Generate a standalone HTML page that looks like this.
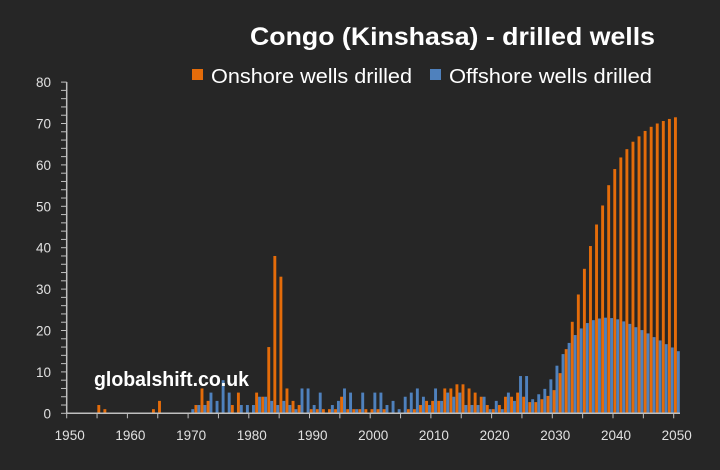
<!DOCTYPE html>
<html><head><meta charset="utf-8"><style>
body{margin:0;background:#262626;}
svg{display:block;font-family:"Liberation Sans",sans-serif;}
</style></head><body>
<svg id="c" width="720" height="470" xmlns="http://www.w3.org/2000/svg">
<rect width="720" height="470" fill="#262626"/>
<text x="250" y="45" textLength="405" lengthAdjust="spacingAndGlyphs" fill="#fff" font-size="25" font-weight="bold">Congo (Kinshasa) - drilled wells</text>
<rect x="192" y="69" width="11" height="11" fill="#e46c0a"/>
<text x="211" y="83" textLength="201" lengthAdjust="spacingAndGlyphs" fill="#fff" font-size="20">Onshore wells drilled</text>
<rect x="430" y="69" width="11" height="11" fill="#4f81bd"/>
<text x="449" y="83" textLength="203" lengthAdjust="spacingAndGlyphs" fill="#fff" font-size="20">Offshore wells drilled</text>
<g id="bars"></g>
<g id="axes" stroke="#bfbfbf" stroke-width="1.5"></g>
<g id="lbl" fill="#e0e0e0" font-size="13.5"></g>
<text x="94" y="386" textLength="155" lengthAdjust="spacingAndGlyphs" fill="#fff" font-size="20" font-weight="bold">globalshift.co.uk</text>
</svg>
<script>
var X0=66.7,S=6.07,Y0=413.3,K=4.14,NS="http://www.w3.org/2000/svg";
var on={1955:2,1956:1,1964:1,1965:3,1971:2,1972:6,1973:3,1977:2,1978:5,1981:5,1982:4,1983:16,1984:38,1985:33,1986:6,1987:3,1988:2,
1990:1,1991:1,1992:1,1993:1,1994:1,1995:4,1996:1,1997:1,1998:1,1999:1,2000:1,2001:1,2002:1,2006:1,2007:1,2008:2,2009:3,2010:3,2011:3,2012:6,2013:6,2014:7,2015:7,2016:6,2017:5,2018:4,2019:2,2020:1,2021:2,2022:4,2023:4,2024:5,2025:4,
2026:2.7,2027:2.7,2028:3.4,2029:4.2,2030:5.6,2031:9.7,2032:15.5,2033:22.1,2034:28.7,2035:34.9,2036:40.4,2037:45.6,2038:50.2,2039:55.1,2040:59,2041:61.8,2042:63.8,2043:65.6,2044:66.9,2045:68.2,2046:69.2,2047:70,2048:70.6,2049:71.1,2050:71.5};
var off={1970:1,1971:2,1972:2,1973:5,1974:3,1975:8,1976:5,1978:2,1979:2,1980:2,1981:4,1982:4,1983:3,1984:2,1985:3,1986:2,1987:1,1988:6,1989:6,
1990:2,1991:5,1993:2,1994:3,1995:6,1996:5,1997:1,1998:5,2000:5,2001:5,2002:2,2003:3,2004:1,2005:4,2006:5,2007:6,2008:4,2009:2,2010:6,2011:3,2012:5,2013:4,2014:5,2015:2,2016:2,2017:2,2018:4,2019:1,2020:3,2021:1,2022:5,2023:3,2024:9,2025:9,
2026:3.4,2027:4.6,2028:5.9,2029:8.2,2030:11.5,2031:14.3,2032:17,2033:18.9,2034:20.5,2035:21.8,2036:22.5,2037:22.9,2038:23.1,2039:23,2040:22.7,2041:22.2,2042:21.6,2043:20.8,2044:20.1,2045:19.3,2046:18.4,2047:17.6,2048:16.7,2049:15.9,2050:15};
function el(t,a,p){var e=document.createElementNS(NS,t);for(var k in a)e.setAttribute(k,a[k]);p.appendChild(e);return e;}
var b=document.getElementById('bars'),ax=document.getElementById('axes'),lb=document.getElementById('lbl');
for(var y in on){var h=on[y]*K;el('rect',{x:X0+(y-1950)*S+0.3,y:Y0-h,width:2.9,height:h,fill:'#e46c0a'},b);}
for(var y in off){var h=off[y]*K;el('rect',{x:X0+(y-1950)*S+3.2,y:Y0-h,width:2.9,height:h,fill:'#4f81bd'},b);}
el('line',{x1:66.7,y1:Y0,x2:680,y2:Y0},ax);
el('line',{x1:66.7,y1:82,x2:66.7,y2:Y0},ax);
for(var v=0;v<=80;v+=2){var yy=Y0-v*K;el('line',{x1:61,y1:yy,x2:66.7,y2:yy,'stroke-width':1},ax);
 if(v%10==0){var t=el('text',{x:51,y:yy+5,'text-anchor':'end'},lb);t.textContent=v;}}
for(var yr=1950;yr<=2050;yr+=5){var xx=X0+(yr-1950)*S;el('line',{x1:xx,y1:Y0,x2:xx,y2:Y0+5,'stroke-width':1},ax);
 if(yr%10==0){var t=el('text',{x:xx+3,y:440,'text-anchor':'middle'},lb);t.textContent=yr;}}
</script>
</body></html>
